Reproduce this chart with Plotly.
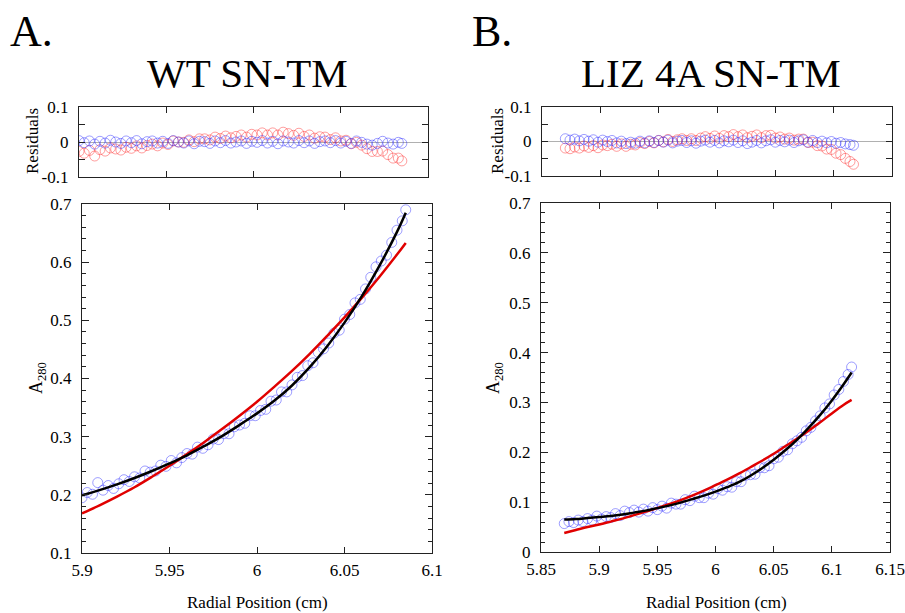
import plotly.graph_objects as go

# ---------------- Panel A: WT SN-TM ----------------
a_x = [5.900, 5.903, 5.906, 5.909, 5.912, 5.915, 5.918, 5.921, 5.924, 5.927,
       5.930, 5.933, 5.936, 5.939, 5.942, 5.945, 5.948, 5.951, 5.954, 5.957,
       5.960, 5.963, 5.966, 5.969, 5.972, 5.975, 5.978, 5.981, 5.984, 5.987,
       5.990, 5.993, 5.996, 5.999, 6.002, 6.005, 6.008, 6.011, 6.014, 6.017,
       6.020, 6.023, 6.026, 6.029, 6.032, 6.035, 6.038, 6.041, 6.044, 6.047,
       6.050, 6.053, 6.056, 6.059, 6.062, 6.065, 6.068, 6.071, 6.074, 6.077,
       6.080, 6.083, 6.085]
a_data = [0.195, 0.204, 0.201, 0.221, 0.208, 0.216, 0.211, 0.219, 0.226, 0.223,
          0.231, 0.229, 0.241, 0.239, 0.241, 0.251, 0.249, 0.259, 0.255, 0.264,
          0.271, 0.270, 0.282, 0.280, 0.286, 0.296, 0.295, 0.305, 0.305, 0.317,
          0.320, 0.323, 0.336, 0.336, 0.345, 0.347, 0.361, 0.363, 0.377, 0.377,
          0.389, 0.402, 0.405, 0.422, 0.427, 0.445, 0.451, 0.461, 0.478, 0.483,
          0.502, 0.510, 0.530, 0.536, 0.554, 0.574, 0.592, 0.602, 0.612, 0.634,
          0.655, 0.671, 0.690]
a_res_blue = [0.004, -0.002, 0.003, -0.006, 0.002, -0.003, 0.005, 0.000, -0.004, 0.003,
              -0.002, 0.004, -0.005, 0.001, 0.003, -0.003, 0.002, -0.004, 0.004, 0.000,
              -0.003, 0.003, -0.005, 0.002, 0.001, -0.004, 0.003, -0.002, 0.004, -0.003,
              0.000, 0.003, -0.004, 0.002, -0.001, 0.004, -0.003, 0.002, -0.005, 0.003,
              0.000, -0.003, 0.004, -0.002, 0.003, -0.004, 0.001, 0.003, -0.002, 0.004,
              -0.003, 0.002, -0.004, 0.003, -0.001, -0.006, -0.009, -0.004, 0.002, -0.003,
              -0.006, -0.001, -0.004]
a_res_red = [-0.027, -0.032, -0.024, -0.040, -0.022, -0.026, -0.017, -0.020, -0.023, -0.015,
             -0.018, -0.011, -0.017, -0.010, -0.006, -0.011, -0.003, -0.007, 0.003, 0.000,
             -0.001, 0.006, 0.001, 0.009, 0.009, 0.006, 0.014, 0.010, 0.017, 0.012,
             0.016, 0.020, 0.014, 0.022, 0.020, 0.026, 0.020, 0.026, 0.020, 0.028,
             0.024, 0.019, 0.025, 0.016, 0.020, 0.011, 0.015, 0.014, 0.007, 0.012,
             0.003, 0.005, -0.005, -0.001, -0.009, -0.019, -0.027, -0.027, -0.026, -0.036,
             -0.046, -0.046, -0.054]
a_fit_x = [5.90, 5.91, 5.92, 5.93, 5.94, 5.95, 5.96, 5.97, 5.98, 5.99, 6.00,
           6.01, 6.02, 6.03, 6.04, 6.05, 6.06, 6.07, 6.08, 6.085]
a_fit_black = [0.199, 0.208, 0.218, 0.229, 0.241, 0.254, 0.268, 0.284, 0.301, 0.320, 0.340,
               0.362, 0.388, 0.419, 0.455, 0.496, 0.542, 0.594, 0.652, 0.685]
a_fit_red = [0.168, 0.182, 0.197, 0.213, 0.231, 0.250, 0.270, 0.291, 0.313, 0.336, 0.360,
             0.386, 0.413, 0.442, 0.473, 0.505, 0.539, 0.575, 0.613, 0.633]

# ---------------- Panel B: LIZ 4A SN-TM ----------------
b_x = [5.870, 5.874, 5.878, 5.882, 5.886, 5.890, 5.894, 5.898, 5.902, 5.906,
       5.910, 5.914, 5.918, 5.922, 5.926, 5.930, 5.934, 5.938, 5.942, 5.946,
       5.950, 5.954, 5.958, 5.962, 5.966, 5.970, 5.974, 5.978, 5.982, 5.986,
       5.990, 5.994, 5.998, 6.002, 6.006, 6.010, 6.014, 6.018, 6.022, 6.026,
       6.030, 6.034, 6.038, 6.042, 6.046, 6.050, 6.054, 6.058, 6.062, 6.066,
       6.070, 6.074, 6.078, 6.082, 6.086, 6.090, 6.094, 6.098, 6.102, 6.106,
       6.110, 6.114, 6.117]
b_data = [0.057, 0.061, 0.059, 0.064, 0.061, 0.067, 0.064, 0.072, 0.066, 0.071,
          0.069, 0.077, 0.073, 0.082, 0.079, 0.084, 0.080, 0.086, 0.082, 0.089,
          0.085, 0.092, 0.088, 0.098, 0.096, 0.096, 0.105, 0.103, 0.112, 0.109,
          0.109, 0.118, 0.116, 0.127, 0.124, 0.131, 0.130, 0.141, 0.141, 0.154,
          0.155, 0.156, 0.169, 0.169, 0.173, 0.187, 0.190, 0.202, 0.205, 0.217,
          0.223, 0.230, 0.243, 0.250, 0.263, 0.273, 0.289, 0.297, 0.315, 0.326,
          0.342, 0.356, 0.371]
b_res_blue = [0.008, 0.004, 0.007, 0.002, 0.006, 0.001, 0.005, -0.002, 0.004, 0.000,
              0.003, -0.004, 0.001, -0.006, -0.002, -0.005, 0.001, -0.004, 0.002, -0.003,
              0.003, -0.002, 0.004, -0.004, 0.001, 0.003, -0.003, 0.002, -0.005, 0.001,
              0.004, -0.002, 0.003, -0.004, 0.002, -0.001, 0.004, -0.003, 0.002, -0.006,
              -0.002, 0.003, -0.004, 0.002, 0.005, -0.002, 0.003, -0.001, 0.004, -0.003,
              0.002, 0.005, -0.002, 0.003, -0.003, 0.001, -0.004, 0.000, -0.005, -0.003,
              -0.007, -0.009, -0.011]
b_res_red = [-0.019, -0.021, -0.016, -0.019, -0.013, -0.017, -0.012, -0.018, -0.010, -0.012,
             -0.008, -0.014, -0.007, -0.014, -0.008, -0.010, -0.003, -0.006, 0.000, -0.004,
             0.003, -0.001, 0.006, 0.000, 0.005, 0.008, 0.003, 0.008, 0.003, 0.010,
             0.014, 0.009, 0.016, 0.009, 0.017, 0.014, 0.020, 0.014, 0.019, 0.011,
             0.015, 0.019, 0.011, 0.017, 0.018, 0.010, 0.013, 0.007, 0.010, 0.004,
             0.007, 0.007, -0.003, -0.002, -0.012, -0.013, -0.022, -0.023, -0.034, -0.038,
             -0.049, -0.058, -0.066]
b_fit_x = [5.87, 5.88, 5.89, 5.90, 5.91, 5.92, 5.93, 5.94, 5.95, 5.96, 5.97, 5.98, 5.99,
           6.00, 6.01, 6.02, 6.03, 6.04, 6.05, 6.06, 6.07, 6.08, 6.09, 6.10, 6.11, 6.117]
b_fit_black = [0.065, 0.066, 0.068, 0.070, 0.072, 0.075, 0.079, 0.083, 0.088, 0.093, 0.099,
               0.106, 0.113, 0.121, 0.130, 0.140, 0.153, 0.168, 0.185, 0.204, 0.225,
               0.249, 0.275, 0.304, 0.336, 0.360]
b_fit_red = [0.038, 0.044, 0.050, 0.055, 0.061, 0.067, 0.074, 0.081, 0.088, 0.096, 0.104,
             0.113, 0.123, 0.134, 0.145, 0.157, 0.170, 0.183, 0.197, 0.212, 0.227,
             0.243, 0.260, 0.278, 0.295, 0.305]

# ---------------- Tick labels ----------------
a_xticks = [5.9, 5.95, 6.0, 6.05, 6.1]
a_xticktext = ["5.9", "5.95", "6", "6.05", "6.1"]
a_yticks = [0.1, 0.2, 0.3, 0.4, 0.5, 0.6, 0.7]
a_yticktext = ["0.1", "0.2", "0.3", "0.4", "0.5", "0.6", "0.7"]
b_xticks = [5.85, 5.9, 5.95, 6.0, 6.05, 6.1, 6.15]
b_xticktext = ["5.85", "5.9", "5.95", "6", "6.05", "6.1", "6.15"]
b_yticks = [0, 0.1, 0.2, 0.3, 0.4, 0.5, 0.6, 0.7]
b_yticktext = ["0", "0.1", "0.2", "0.3", "0.4", "0.5", "0.6", "0.7"]
res_yticks = [-0.1, 0, 0.1]
res_yticktext = ["-0.1", "0", "0.1"]

W, H = 905, 613
FONT = "Liberation Serif"
BLUE_M = "rgba(40,40,255,0.45)"
RED_M = "rgba(255,40,40,0.45)"


def px_x(p):
    return p / W


def px_y(p):
    return 1 - p / H


fig = go.Figure()

marker_blue = dict(symbol="circle-open", size=10, color=BLUE_M, line=dict(width=1, color=BLUE_M))
marker_red = dict(symbol="circle-open", size=10, color=RED_M, line=dict(width=1, color=RED_M))

fig.add_trace(go.Scatter(x=a_x, y=a_res_red, mode="markers", marker=marker_red, xaxis="x", yaxis="y"))
fig.add_trace(go.Scatter(x=a_x, y=a_res_blue, mode="markers", marker=marker_blue, xaxis="x", yaxis="y"))
fig.add_trace(go.Scatter(x=a_x, y=a_data, mode="markers", marker=marker_blue, xaxis="x2", yaxis="y2"))
fig.add_trace(go.Scatter(x=a_fit_x, y=a_fit_red, mode="lines", line=dict(color="#e00000", width=2.5, shape="spline"),
                         xaxis="x2", yaxis="y2"))
fig.add_trace(go.Scatter(x=a_fit_x, y=a_fit_black, mode="lines", line=dict(color="black", width=2.5, shape="spline"),
                         xaxis="x2", yaxis="y2"))

fig.add_trace(go.Scatter(x=b_x, y=b_res_red, mode="markers", marker=marker_red, xaxis="x3", yaxis="y3"))
fig.add_trace(go.Scatter(x=b_x, y=b_res_blue, mode="markers", marker=marker_blue, xaxis="x3", yaxis="y3"))
fig.add_trace(go.Scatter(x=b_x, y=b_data, mode="markers", marker=marker_blue, xaxis="x4", yaxis="y4"))
fig.add_trace(go.Scatter(x=b_fit_x, y=b_fit_red, mode="lines", line=dict(color="#e00000", width=2.5, shape="spline"),
                         xaxis="x4", yaxis="y4"))
fig.add_trace(go.Scatter(x=b_fit_x, y=b_fit_black, mode="lines", line=dict(color="black", width=2.5, shape="spline"),
                         xaxis="x4", yaxis="y4"))

axis_common = dict(showline=True, linecolor="#222", linewidth=1.2, mirror="ticks", ticks="inside",
                   tickcolor="#222", tickwidth=1.2, showgrid=False, automargin=False,
                   tickfont=dict(family=FONT, size=17, color="black"))

res_minor = dict(dtick=0.05, ticks="inside", ticklen=6, tickcolor="#222", tickwidth=1.2)
main_minor = dict(dtick=0.02, ticks="inside", ticklen=4, tickcolor="#222", tickwidth=1)

fig.update_layout(
    width=W, height=H, margin=dict(l=0, r=0, t=0, b=0),
    paper_bgcolor="white", plot_bgcolor="white", showlegend=False,
    font=dict(family=FONT, color="black"),
    # residual A
    xaxis=dict(domain=[px_x(79), px_x(428)], range=[5.9, 6.1], tickvals=a_xticks[1:4], showticklabels=False,
               ticklen=6, anchor="y", zeroline=False, **axis_common),
    yaxis=dict(domain=[px_y(177), px_y(107)], range=[-0.1, 0.1], tickvals=res_yticks, ticktext=res_yticktext,
               ticklen=6, anchor="x", ticklabelstandoff=6, minor=res_minor,
               zeroline=True, zerolinecolor="#b0b0b0", zerolinewidth=1, **axis_common),
    # main A
    xaxis2=dict(domain=[px_x(82), px_x(432)], range=[5.9, 6.1], tickvals=a_xticks, ticktext=a_xticktext,
                ticklen=6, anchor="y2", ticklabelstandoff=1, zeroline=False, **axis_common),
    yaxis2=dict(domain=[px_y(553), px_y(204)], range=[0.1, 0.7], tickvals=a_yticks, ticktext=a_yticktext,
                ticklen=7, anchor="x2", ticklabelstandoff=6, minor=main_minor, zeroline=False,
                **axis_common),
    # residual B
    xaxis3=dict(domain=[px_x(542), px_x(892)], range=[5.85, 6.15], tickvals=b_xticks[1:6], showticklabels=False,
                ticklen=6, anchor="y3", zeroline=False, **axis_common),
    yaxis3=dict(domain=[px_y(176), px_y(107)], range=[-0.1, 0.1], tickvals=res_yticks, ticktext=res_yticktext,
                ticklen=6, anchor="x3", ticklabelstandoff=6, minor=res_minor,
                zeroline=True, zerolinecolor="#b0b0b0", zerolinewidth=1, **axis_common),
    # main B
    xaxis4=dict(domain=[px_x(541), px_x(890)], range=[5.85, 6.15], tickvals=b_xticks, ticktext=b_xticktext,
                ticklen=6, anchor="y4", ticklabelstandoff=1, zeroline=False, **axis_common),
    yaxis4=dict(domain=[px_y(552), px_y(203)], range=[0, 0.7], tickvals=b_yticks, ticktext=b_yticktext,
                ticklen=7, anchor="x4", ticklabelstandoff=6, minor=main_minor, zeroline=False,
                **axis_common),
)

annots = [
    dict(text="A.", x=px_x(8), y=px_y(58), xanchor="left", yanchor="bottom", font=dict(size=44)),
    dict(text="B.", x=px_x(470), y=px_y(58), xanchor="left", yanchor="bottom", font=dict(size=44)),
    dict(text="WT SN-TM", x=px_x(247), y=px_y(98), xanchor="center", yanchor="bottom", font=dict(size=41)),
    dict(text="LIZ 4A SN-TM", x=px_x(711), y=px_y(98), xanchor="center", yanchor="bottom", font=dict(size=41)),
    dict(text="Residuals", x=px_x(32), y=px_y(141), xanchor="center", yanchor="middle", textangle=-90,
         font=dict(size=17)),
    dict(text="Residuals", x=px_x(497), y=px_y(141), xanchor="center", yanchor="middle", textangle=-90,
         font=dict(size=17)),
    dict(text="A<sub>280</sub>", x=px_x(38), y=px_y(378), xanchor="center", yanchor="middle", textangle=-90,
         font=dict(size=18)),
    dict(text="A<sub>280</sub>", x=px_x(495), y=px_y(378), xanchor="center", yanchor="middle", textangle=-90,
         font=dict(size=18)),
    dict(text="Radial Position (cm)", x=px_x(257), y=px_y(602), xanchor="center", yanchor="middle",
         font=dict(size=17)),
    dict(text="Radial Position (cm)", x=px_x(716), y=px_y(602), xanchor="center", yanchor="middle",
         font=dict(size=17)),
]
for a in annots:
    a.update(xref="paper", yref="paper", showarrow=False)
    a["font"].update(family=FONT, color="black")
    fig.add_annotation(**a)

fig.write_html("out.html", config={"displayModeBar": False},
               post_script="document.body.style.margin='0px';document.body.style.overflow='hidden';")
